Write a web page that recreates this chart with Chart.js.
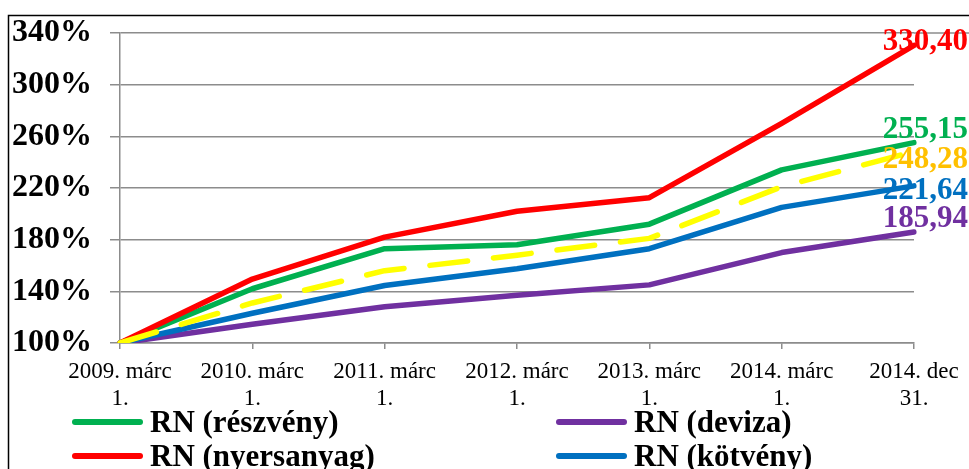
<!DOCTYPE html>
<html>
<head>
<meta charset="utf-8">
<script src="https://cdn.jsdelivr.net/npm/chart.js@4"></script>
<style>
    html, body { margin: 0; padding: 0; background: #fff; overflow: hidden; }
    #wrap { width: 969px; height: 469px; position: relative; }
</style>
</head>
<body>
<div id="wrap"><canvas id="rnChart"></canvas></div>
<script>
// ide kerülnek az adatok
const categories = [
    ['2009. márc', '1.'],
    ['2010. márc', '1.'],
    ['2011. márc', '1.'],
    ['2012. márc', '1.'],
    ['2013. márc', '1.'],
    ['2014. márc', '1.'],
    ['2014. dec', '31.']
];
const reszveny   = [100, 142, 173, 176, 192, 234, 255.15];
const deviza     = [100, 114.5, 128, 137, 145, 170, 185.94];
const nyersanyag = [100, 149.5, 182, 202, 212.5, 270, 330.40];
const kotveny    = [100, 123, 144.5, 157.5, 173, 205, 221.64];
const atlag      = [100, 131, 156, 168, 181, 221, 248.28];
const yTicks = [100, 140, 180, 220, 260, 300, 340];

const serif = "'Liberation Serif', 'Times New Roman', serif";
const gridGray = '#8c8c8c';

// címkék a vonalak végén (függőleges eltolás a ponthoz képest)
const endLabelColor = ['#FFC000', '#FF0000', '#00B050', '#0070C0', '#7030A0'];
const endLabelDy = [17, 5, -5, 13, -5];

const frame = {
    id: 'frame',
    beforeDatasetsDraw(chart) {
        const c = chart.ctx;
        const y = chart.scales.y.getPixelForValue(yTicks[yTicks.length - 1]);
        c.save();
        c.strokeStyle = gridGray;
        c.lineWidth = 1.5;
        c.beginPath();
        c.moveTo(chart.chartArea.right, y);
        c.lineTo(chart.width, y);
        c.stroke();
        c.restore();
    },
    afterDraw(chart) {
        const c = chart.ctx;
        c.save();
        c.strokeStyle = '#000';
        c.lineWidth = 1.5;
        c.beginPath();
        c.moveTo(8.5, chart.height);
        c.lineTo(8.5, 15.5);
        c.lineTo(chart.width, 15.5);
        c.stroke();
        c.restore();
    }
};

const endLabels = {
    id: 'endLabels',
    afterDatasetsDraw(chart) {
        const c = chart.ctx;
        c.save();
        c.font = 'bold 31px ' + serif;
        c.textAlign = 'right';
        c.textBaseline = 'alphabetic';
        chart.data.datasets.forEach((ds, i) => {
            const meta = chart.getDatasetMeta(i);
            const pt = meta.data[meta.data.length - 1];
            const v = ds.data[ds.data.length - 1];
            c.fillStyle = endLabelColor[i];
            c.fillText(v.toFixed(2).replace('.', ','), pt.x + 54, pt.y + endLabelDy[i]);
        });
        c.restore();
    }
};

// saját jelmagyarázat, két oszlopban
const legendGrid = {
    id: 'legendGrid',
    afterDraw(chart) {
        const c = chart.ctx;
        const items = [[2, 72, 422], [4, 556, 422], [1, 72, 456], [3, 556, 456]];
        c.save();
        c.font = 'bold 31px ' + serif;
        c.textBaseline = 'alphabetic';
        c.fillStyle = '#000';
        items.forEach(([i, x, y]) => {
            const ds = chart.data.datasets[i];
            c.strokeStyle = ds.borderColor;
            c.lineWidth = 6;
            c.lineCap = 'round';
            c.beginPath();
            c.moveTo(x + 3, y);
            c.lineTo(x + 68, y);
            c.stroke();
            c.fillText(ds.label, x + 78, y + 10);
        });
        c.restore();
    }
};

const lineStyle = {
    borderWidth: 5.5,
    pointRadius: 0,
    pointHoverRadius: 0,
    borderCapStyle: 'round',
    borderJoinStyle: 'round',
    tension: 0,
    fill: false
};

const ctx = document.getElementById('rnChart').getContext('2d');
const rnChart = new Chart(ctx, {
    type: 'line',
    data: {
        labels: categories,
        datasets: [
            { label: 'Átlag', data: atlag, borderColor: '#FFFF00', borderDash: [38, 26], ...lineStyle },
            { label: 'RN (nyersanyag)', data: nyersanyag, borderColor: '#FF0000', ...lineStyle },
            { label: 'RN (részvény)', data: reszveny, borderColor: '#00B050', ...lineStyle },
            { label: 'RN (kötvény)', data: kotveny, borderColor: '#0070C0', ...lineStyle },
            { label: 'RN (deviza)', data: deviza, borderColor: '#7030A0', ...lineStyle }
        ]
    },
    options: {
        responsive: true,
        maintainAspectRatio: false,
        animation: false,
        layout: { padding: { left: 0, right: 55, top: 33, bottom: 59 } },
        plugins: {
            legend: { display: false },
            tooltip: { enabled: false }
        },
        scales: {
            x: {
                offset: false,
                afterFit: scale => {
                    scale.height = 67;
                    scale.paddingLeft = 0;
                    scale.paddingRight = 0;
                },
                grid: {
                    drawOnChartArea: false,
                    drawTicks: true,
                    tickLength: 6,
                    color: gridGray,
                    lineWidth: 1.5
                },
                border: { display: true, color: gridGray, width: 1.5 },
                ticks: {
                    color: '#000',
                    maxRotation: 0,
                    autoSkip: false,
                    padding: 10,
                    font: { family: serif, size: 23, lineHeight: 1.15 }
                }
            },
            y: {
                min: 100,
                max: 340,
                afterFit: scale => {
                    scale.width = 120;
                    scale.paddingTop = 0;
                    scale.paddingBottom = 0;
                },
                afterBuildTicks: scale => { scale.ticks = yTicks.map(v => ({ value: v })); },
                grid: {
                    color: gridGray,
                    lineWidth: 1.5,
                    tickLength: 10
                },
                border: { display: true, color: gridGray, width: 1.5 },
                ticks: {
                    color: '#000',
                    padding: 18,
                    font: { family: serif, size: 32, weight: 'bold' },
                    callback: v => v + '%'
                }
            }
        }
    },
    plugins: [frame, endLabels, legendGrid]
});
</script>
</body>
</html>
